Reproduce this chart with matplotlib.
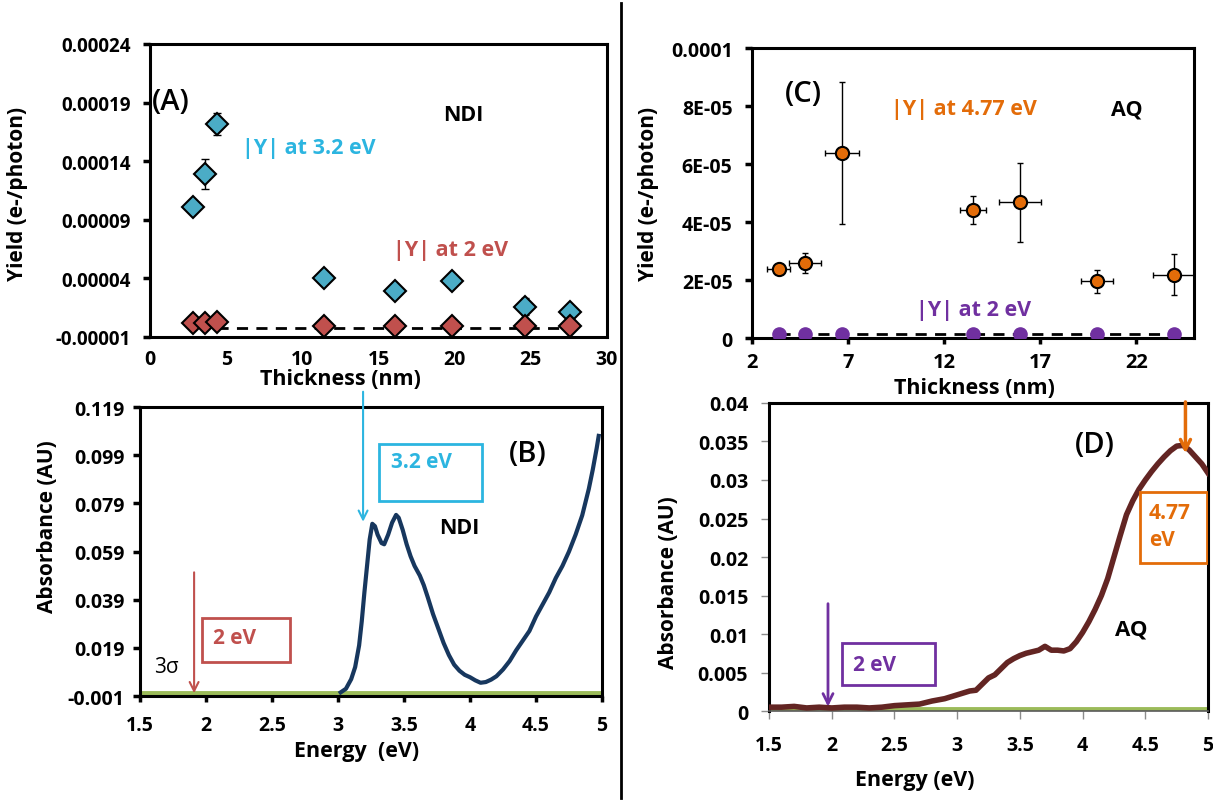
import matplotlib.pyplot as plt
from matplotlib.patches import Rectangle
from matplotlib.lines import Line2D

plt.rcParams['font.family'] = ['Open Sans', 'DejaVu Sans']
plt.rcParams['font.weight'] = 'bold'
plt.rcParams['axes.labelweight'] = 'bold'

# (A) NDI: yield vs thickness
ndi_thick = [2.85, 3.6, 4.4, 11.45, 16.1, 19.8, 24.6, 27.6]
ndi_y32 = [0.000101, 0.000129, 0.000172, 0.000040, 0.000029, 0.000038, 0.000016, 0.000011]
ndi_y32_err = [0, 0.000013, 0.0000095, 0, 0, 0, 0.000007, 0]
ndi_y2 = [0.0000022, 0.0000022, 0.0000024, -0.0000009, -0.0000009, -0.0000009, -0.0000009, -0.0000009]
ndi_sig_x = [4.4, 27.6]
ndi_sig_y = [-0.0000021, -0.0000021]
a_yticks = [-0.00001, 0.00004, 0.00009, 0.00014, 0.00019, 0.00024]
a_ylabels = ['-0.00001', '0.00004', '0.00009', '0.00014', '0.00019', '0.00024']
a_xticks = [0, 5, 10, 15, 20, 25, 30]

# (C) AQ: yield vs thickness
aq_thick = [3.38, 4.75, 6.68, 13.5, 15.96, 19.95, 23.96]
aq_thick_err = [0.61, 0.83, 0.88, 0.69, 1.1, 0.85, 1.12]
aq_y477 = [2.37e-5, 2.58e-5, 6.38e-5, 4.41e-5, 4.68e-5, 1.96e-5, 2.18e-5]
aq_y477_err = [0.1e-5, 0.34e-5, 2.45e-5, 0.48e-5, 1.36e-5, 0.4e-5, 0.71e-5]
aq_y2 = [1.5e-6, 1.5e-6, 1.5e-6, 1.5e-6, 1.5e-6, 1.5e-6, 1.5e-6]
aq_sig_x = [3.38, 23.96]
aq_sig_y = [1.3e-6, 1.3e-6]
c_yticks = [0, 2e-5, 4e-5, 6e-5, 8e-5, 1e-4]
c_ylabels = ['0', '2E-05', '4E-05', '6E-05', '8E-05', '0.0001']
c_xticks = [2, 7, 12, 17, 22]

# (B) NDI absorbance spectrum
ndi_e = [3.02, 3.06, 3.10, 3.13, 3.16, 3.18, 3.20, 3.22, 3.24, 3.26, 3.28, 3.30,
         3.33, 3.35, 3.38, 3.41, 3.44, 3.46, 3.49, 3.52, 3.55, 3.58, 3.62, 3.65,
         3.68, 3.72, 3.76, 3.80, 3.84, 3.88, 3.92, 3.96, 4.00, 4.04, 4.08, 4.12,
         4.16, 4.20, 4.25, 4.30, 4.35, 4.40, 4.45, 4.50, 4.55, 4.60, 4.65, 4.70,
         4.75, 4.80, 4.85, 4.90, 4.93, 4.96, 4.975]
ndi_abs = [0.0005, 0.002, 0.006, 0.011, 0.020, 0.030, 0.042, 0.053, 0.064, 0.0705, 0.0695, 0.066,
           0.0625, 0.062, 0.066, 0.071, 0.0742, 0.073, 0.068, 0.062, 0.057, 0.053, 0.049, 0.045,
           0.040, 0.033, 0.027, 0.021, 0.016, 0.012, 0.0095, 0.0078, 0.0068, 0.0055, 0.0045, 0.0048,
           0.0058, 0.0072, 0.010, 0.0135, 0.018, 0.022, 0.026, 0.032, 0.037, 0.042, 0.048, 0.053,
           0.059, 0.066, 0.074, 0.085, 0.093, 0.102, 0.107]
b_yticks = [-0.001, 0.019, 0.039, 0.059, 0.079, 0.099, 0.119]
b_ylabels = ['-0.001', '0.019', '0.039', '0.059', '0.079', '0.099', '0.119']
e_xticks = [1.5, 2, 2.5, 3, 3.5, 4, 4.5, 5]
e_xlabels = ['1.5', '2', '2.5', '3', '3.5', '4', '4.5', '5']

# (D) AQ absorbance spectrum
aq_e = [1.50, 1.60, 1.70, 1.80, 1.90, 2.00, 2.10, 2.20, 2.30, 2.40, 2.50, 2.60,
        2.70, 2.80, 2.90, 3.00, 3.10, 3.15, 3.20, 3.25, 3.30, 3.35, 3.40, 3.45,
        3.50, 3.55, 3.60, 3.65, 3.70, 3.75, 3.80, 3.85, 3.90, 3.95, 4.00, 4.05,
        4.10, 4.15, 4.20, 4.25, 4.30, 4.35, 4.40, 4.45, 4.50, 4.55, 4.60, 4.65,
        4.70, 4.75, 4.80, 4.85, 4.90, 4.95, 5.00]
aq_abs = [0.0005, 0.0005, 0.0006, 0.0004, 0.0005, 0.0004, 0.0005, 0.0005, 0.0004, 0.0005, 0.0007, 0.0008,
          0.0009, 0.0013, 0.0016, 0.0021, 0.0026, 0.0027, 0.0035, 0.0043, 0.0047, 0.0055, 0.0063, 0.0068,
          0.0072, 0.0075, 0.0077, 0.0079, 0.0084, 0.0079, 0.0079, 0.0078, 0.0081, 0.0090, 0.0102, 0.0116,
          0.0132, 0.0150, 0.0172, 0.0200, 0.0228, 0.0255, 0.0273, 0.0288, 0.0300, 0.0311, 0.0321, 0.0330,
          0.0338, 0.0344, 0.0345, 0.0339, 0.0330, 0.0321, 0.0309]
d_yticks = [0, 0.005, 0.01, 0.015, 0.02, 0.025, 0.03, 0.035, 0.04]
d_ylabels = ['0', '0.005', '0.01', '0.015', '0.02', '0.025', '0.03', '0.035', '0.04']

sigma_e = [1.5, 5.0]
sigma_b = [0.0001, 0.0001]
sigma_d = [0.0002, 0.0002]

cyan = '#2CB5E0'
red = '#C0504D'
orange = '#E36C09'
purple = '#7030A0'
green = '#9BBB59'

fig = plt.figure(figsize=(12.13, 8.03), dpi=100)


def frame(ax, lw=2.2):
    for s in ax.spines.values():
        s.set_linewidth(lw)
        s.set_color('black')


# ---------- (A) ----------
axA = fig.add_axes([0.1237, 0.5791, 0.3767, 0.3649])
frame(axA)
axA.plot(ndi_sig_x, ndi_sig_y, 'k--', lw=2, dashes=(4, 3), zorder=2)
axA.errorbar(ndi_thick, ndi_y32, yerr=ndi_y32_err, fmt='none', ecolor='black',
             elinewidth=1, capsize=3, zorder=2)
axA.plot(ndi_thick, ndi_y32, 'D', ms=11, mfc='#4BACC6', mec='black', mew=1.5, zorder=3)
axA.plot(ndi_thick, ndi_y2, 'D', ms=11, mfc=red, mec='black', mew=1.5, zorder=3)
axA.set_xlim(0, 30)
axA.set_ylim(-0.00001, 0.00024)
axA.set_yticks(a_yticks)
axA.set_yticklabels(a_ylabels)
axA.set_xticks(a_xticks)
axA.tick_params(axis='y', direction='out', length=5, width=2.5, labelsize=13.5, pad=9)
axA.tick_params(axis='x', length=0, labelsize=14, pad=9)
axA.set_xlabel('Thickness (nm)', fontsize=15.5, va='center')
axA.xaxis.set_label_coords(0.416, -0.143)
axA.set_ylabel('Yield (e-/photon)', fontsize=15, va='center')
axA.yaxis.set_label_coords(-0.29, 0.49)
axA.text(0.15, 0.000191, '(A)', fontsize=21, fontweight='semibold', va='center')
axA.text(20.6, 0.00018, 'NDI', fontsize=15.5, ha='center', va='center')
axA.text(10.4, 0.0001514, '|Y| at 3.2 eV', fontsize=15.5, color=cyan, ha='center', va='center')
axA.text(19.7, 0.000065, '|Y| at 2 eV', fontsize=15.5, color=red, ha='center', va='center')

# ---------- (C) ----------
axC = fig.add_axes([0.6200, 0.5778, 0.3644, 0.3611])
frame(axC)
axC.plot(aq_sig_x, aq_sig_y, 'k--', lw=2, dashes=(4, 3), zorder=2)
axC.errorbar(aq_thick, aq_y477, xerr=aq_thick_err, yerr=aq_y477_err, fmt='none',
             ecolor='black', elinewidth=1, capsize=2.5, zorder=2)
axC.plot(aq_thick, aq_y477, 'o', ms=9.5, mfc=orange, mec='black', mew=1.5, zorder=3)
axC.plot(aq_thick, aq_y2, 'o', ms=9.5, mfc=purple, mec=purple, mew=1, zorder=3)
axC.set_xlim(2, 25)
axC.set_ylim(0, 0.0001)
axC.set_yticks(c_yticks)
axC.set_yticklabels(c_ylabels)
axC.set_xticks(c_xticks)
axC.tick_params(axis='y', direction='out', length=5, width=2.5, labelsize=14, pad=9)
axC.tick_params(axis='x', direction='out', length=4, width=2.5, labelsize=14.5, pad=6)
axC.set_xlabel('Thickness (nm)', fontsize=15.5, va='center')
axC.xaxis.set_label_coords(0.504, -0.17)
axC.set_ylabel('Yield (e-/photon)', fontsize=15, va='center')
axC.yaxis.set_label_coords(-0.235, 0.5)
axC.text(4.65, 8.42e-5, '(C)', fontsize=21, fontweight='semibold', ha='center', va='center')
axC.text(13.0, 7.9e-5, '|Y| at 4.77 eV', fontsize=15.5, color=orange, ha='center', va='center')
axC.text(21.5, 7.9e-5, 'AQ', fontsize=15.5, ha='center', va='center')
axC.text(13.5, 0.97e-5, '|Y| at 2 eV', fontsize=15.5, color=purple, ha='center', va='center')

# ---------- (B) ----------
axB = fig.add_axes([0.1154, 0.1320, 0.3809, 0.3599])
frame(axB)
axB.plot(sigma_e, sigma_b, color=green, lw=3.5, zorder=2)
axB.plot(ndi_e, ndi_abs, color='#17375E', lw=3, zorder=3)
axB.set_xlim(1.5, 5)
axB.set_ylim(-0.001, 0.119)
axB.set_yticks(b_yticks)
axB.set_yticklabels(b_ylabels)
axB.set_xticks(e_xticks)
axB.set_xticklabels(e_xlabels)
axB.tick_params(axis='y', direction='out', length=5, width=2.5, labelsize=14, pad=6)
axB.tick_params(axis='x', direction='out', length=4, width=2.5, labelsize=14, pad=10)
axB.set_xlabel('Energy  (eV)', fontsize=15.5, va='center')
axB.xaxis.set_label_coords(0.468, -0.19)
axB.set_ylabel('Absorbance (AU)', fontsize=15, va='center')
axB.yaxis.set_label_coords(-0.2, 0.588)
axB.annotate('', xy=(3.19, 0.0702), xytext=(3.19, 0.1265), annotation_clip=False,
             arrowprops=dict(arrowstyle='->', color=cyan, lw=1.5, mutation_scale=16))
axB.add_patch(Rectangle((3.31, 0.080), 0.78, 0.0236, fill=False, ec=cyan, lw=2))
axB.text(3.63, 0.0962, '3.2 eV', fontsize=15, color=cyan, ha='center', va='center')
axB.text(4.44, 0.0999, '(B)', fontsize=21, fontweight='semibold', ha='center', va='center')
axB.text(3.92, 0.0688, 'NDI', fontsize=15.5, ha='center', va='center')
axB.annotate('', xy=(1.91, -0.001), xytext=(1.91, 0.0515), annotation_clip=False,
             arrowprops=dict(arrowstyle='->', color=red, lw=1.5, mutation_scale=16))
axB.add_patch(Rectangle((1.967, 0.0132), 0.673, 0.0183, fill=False, ec=red, lw=2))
axB.text(2.22, 0.0232, '2 eV', fontsize=15, color=red, ha='center', va='center')
axB.text(1.70, 0.0114, '3σ', fontsize=15, fontweight='normal', ha='center', va='center')

# ---------- (D) ----------
axD = fig.add_axes([0.6340, 0.1133, 0.3619, 0.3836])
frame(axD)
axD.spines['bottom'].set_linewidth(1.2)
axD.spines['bottom'].set_color('#595959')
axD.plot(sigma_e, sigma_d, color=green, lw=3.5, zorder=2)
axD.plot(aq_e, aq_abs, color='#632523', lw=4, zorder=3)
axD.set_xlim(1.5, 5)
axD.set_ylim(0, 0.04)
axD.set_yticks(d_yticks)
axD.set_yticklabels(d_ylabels)
axD.set_xticks(e_xticks)
axD.set_xticklabels(e_xlabels)
axD.tick_params(axis='both', direction='out', length=6, width=1, color='#8C8C8C', labelsize=14)
axD.tick_params(axis='y', pad=9)
axD.tick_params(axis='x', pad=11)
axD.set_xlabel('Energy (eV)', fontsize=15.5, va='center')
axD.xaxis.set_label_coords(0.333, -0.221)
axD.set_ylabel('Absorbance (AU)', fontsize=15, va='center')
axD.yaxis.set_label_coords(-0.228, 0.42)
axD.annotate('', xy=(4.82, 0.0331), xytext=(4.82, 0.0405), annotation_clip=False,
             arrowprops=dict(arrowstyle='->', color=orange, lw=2.5, mutation_scale=18))
axD.add_patch(Rectangle((4.46, 0.0192), 0.53, 0.0093, fill=False, ec=orange, lw=2, zorder=4))
axD.text(4.53, 0.0240, '4.77\neV', fontsize=15, color=orange, ha='left', va='center',
         linespacing=1.4)
axD.text(4.10, 0.0346, '(D)', fontsize=21, fontweight='semibold', ha='center', va='center')
axD.text(4.39, 0.0107, 'AQ', fontsize=16, ha='center', va='center')
axD.annotate('', xy=(1.97, 0.0002), xytext=(1.97, 0.0143), annotation_clip=False,
             arrowprops=dict(arrowstyle='->', color=purple, lw=2, mutation_scale=18))
axD.add_patch(Rectangle((2.08, 0.00333), 0.74, 0.00553, fill=False, ec=purple, lw=2))
axD.text(2.34, 0.0061, '2 eV', fontsize=15, color=purple, ha='center', va='center')

# divider between the NDI and AQ halves
fig.add_artist(Line2D([0.512, 0.512], [0.005, 0.995], transform=fig.transFigure,
                      color='black', lw=2))

fig.savefig('out.png', dpi=100)
